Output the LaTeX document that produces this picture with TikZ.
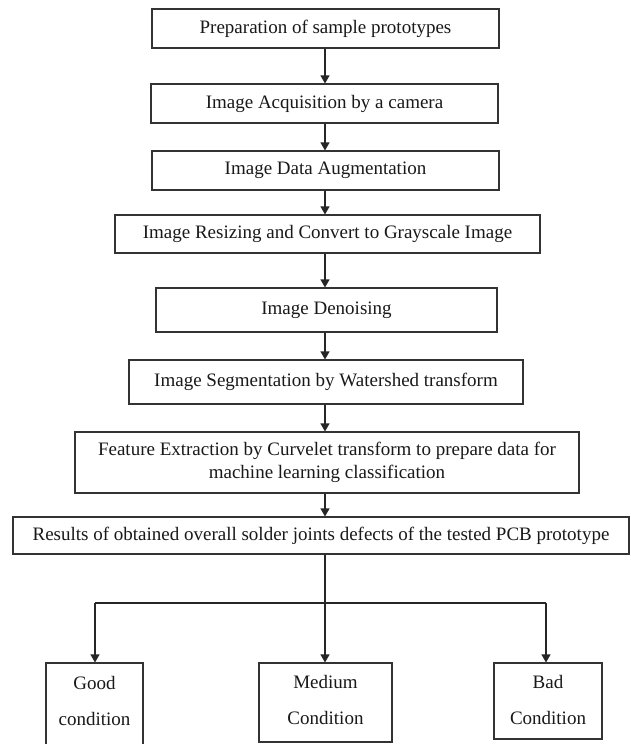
\documentclass[tikz,border=0pt]{standalone}
\usepackage{fontspec}
\setmainfont{Liberation Serif}
\usetikzlibrary{arrows.meta}
\begin{document}
\begin{tikzpicture}[x=1pt,y=-1pt,
  box/.style={draw=black!80, line width=1.1pt, inner sep=0pt, align=center,
    font=\fontsize{19}{23}\selectfont, text=black!90},
  cond/.style={box, font=\fontsize{19}{36}\selectfont},
  arr/.style={draw=black!85, line width=1.1pt, -{Triangle[length=8pt,width=9pt]}},
  ln/.style={draw=black!85, line width=1.1pt}]
\useasboundingbox (0,0) rectangle (630,744);
\clip (0,0) rectangle (630,744);
\fill[white] (0,0) rectangle (630,744);
\node[box, minimum width=347pt, minimum height=39pt] (b1) at (325.5,28.5) {Preparation of sample prototypes};
\node[box, minimum width=347pt, minimum height=39pt] (b2) at (324.5,103.5) {Image Acquisition by a camera};
\node[box, minimum width=347pt, minimum height=39pt] (b3) at (325.5,170.5) {Image Data Augmentation};
\node[box, minimum width=425pt, minimum height=38pt] (b4) at (327.5,234) {Image Resizing and Convert to Grayscale Image};
\node[box, minimum width=341pt, minimum height=44pt] (b5) at (326.5,310) {Image Denoising};
\node[box, minimum width=394pt, minimum height=44pt] (b6) at (326,382) {Image Segmentation by Watershed transform};
\node[box, minimum width=504pt, minimum height=61pt] (b7) at (327,462.5) {Feature Extraction by Curvelet transform to prepare data for\\machine learning classification};
\node[box, minimum width=616pt, minimum height=37pt] (b8) at (321,535.5) {Results of obtained overall solder joints defects of the tested PCB prototype};
\node[cond, minimum width=97pt, minimum height=84pt, text depth=8pt] (good) at (94.5,705) {Good\\condition};
\node[cond, minimum width=133pt, minimum height=79pt, text depth=5pt] (medium) at (325.5,702.5) {Medium\\Condition};
\node[cond, minimum width=108pt, minimum height=76pt, text depth=2pt] (bad) at (548,701) {Bad\\Condition};
\draw[arr] (b1.south -| 325,0) -- (b2.north -| 325,0);
\draw[arr] (b2.south -| 325,0) -- (b3.north -| 325,0);
\draw[arr] (b3.south -| 325,0) -- (b4.north -| 325,0);
\draw[arr] (b4.south -| 325,0) -- (b5.north -| 325,0);
\draw[arr] (b5.south -| 325,0) -- (b6.north -| 325,0);
\draw[arr] (b6.south -| 325,0) -- (b7.north -| 325,0);
\draw[arr] (b7.south -| 325,0) -- (b8.north -| 325,0);
\coordinate (split) at (325,603);
\coordinate (gl) at (95,603);
\coordinate (br) at (546,603);
\draw[arr] (b8.south -| split) -- (medium.north -| split);
\draw[ln] (gl) -- (br);
\draw[arr] (gl) -- (good.north -| gl);
\draw[arr] (br) -- (bad.north -| br);
\end{tikzpicture}
\end{document}
